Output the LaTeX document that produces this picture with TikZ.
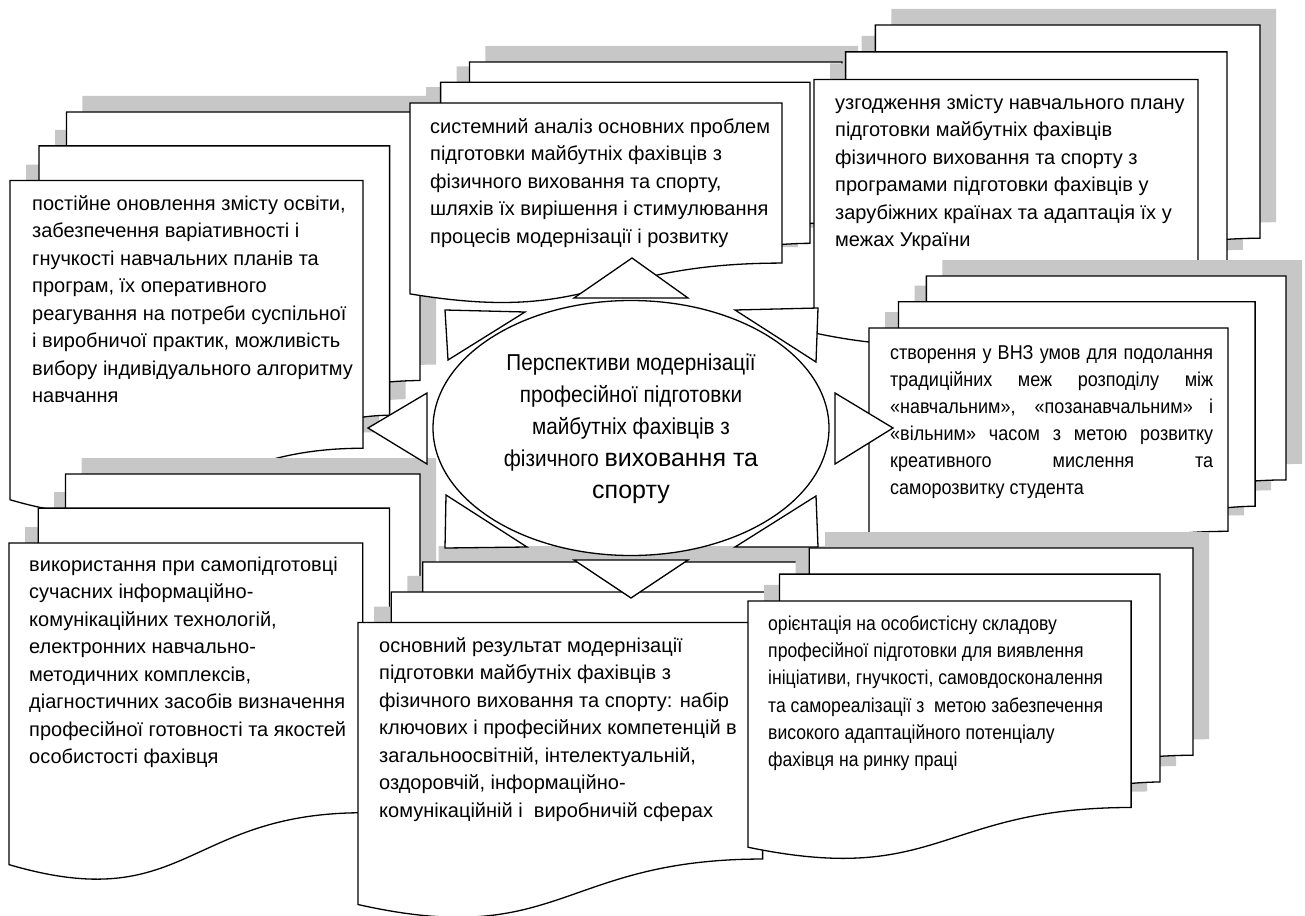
\documentclass[tikz,border=0pt]{standalone}
\usepackage{fontspec}
\setmainfont{Liberation Sans}
\newfontfamily\regfont{Liberation Sans}
\newfontfamily\narrowA[FakeStretch=0.9]{Liberation Sans}
\newfontfamily\narrowB[FakeStretch=0.88]{Liberation Sans}
\usetikzlibrary{shapes.geometric}

\tikzset{
  shadowc/.style={fill=black!22},
  pagefill/.style={fill=white},
  pageline/.style={line width=1.3pt, line join=miter},
  txt/.style={anchor=north west, inner sep=0pt, align=left, font=\fontsize{20}{27.5}\selectfont},
  tri/.style={draw, line width=1.3pt, fill=white, line join=miter},
}

% the three pages of a multidocument shape, in a 100x100 box
\newcommand{\mdocpaths}[1]{%
  \fill[#1] (13.759,8.403) -- (13.759,0) -- (100,0) -- (100,66.63) .. controls (96.296,66.63) and (92.593,66.977) .. (92.593,66.977) -- (92.593,8.403) -- cycle;
  \fill[#1] (7.093,17.014) -- (7.093,8.403) -- (92.593,8.403) -- (92.593,75.241) .. controls (89.343,75.241) and (86.088,75.704) .. (86.088,75.704) -- (86.088,17.014) -- cycle;
  \fill[#1] (0,96.213) .. controls (43.046,108.99) and (43.046,83.435) .. (86.088,83.435) -- (86.088,17.014) -- (0,17.014) -- cycle;
}
\newcommand{\mdoc}[4]{%
  \begin{scope}[shift={(#1+16,#2-16)},xscale=#3/100,yscale=#4/100]
    \mdocpaths{shadowc}
  \end{scope}
  \begin{scope}[shift={(#1,#2)},xscale=#3/100,yscale=#4/100]
    \mdocpaths{pagefill}
    \draw[pageline] (13.759,8.403) -- (13.759,0) -- (100,0) -- (100,66.63) .. controls (96.296,66.63) and (92.593,66.977) .. (92.593,66.977);
    \draw[pageline] (7.093,17.014) -- (7.093,8.403) -- (92.593,8.403) -- (92.593,75.241) .. controls (89.343,75.241) and (86.088,75.704) .. (86.088,75.704);
    \draw[pageline] (0,96.213) .. controls (43.046,108.99) and (43.046,83.435) .. (86.088,83.435) -- (86.088,17.014) -- (0,17.014) -- cycle;
  \end{scope}
}

\begin{document}
\begin{tikzpicture}[x=1pt,y=-1pt]
\useasboundingbox (0,0) rectangle (1305,915);
\fill[white] (0,0) rectangle (1305,915);

% multidocument shapes, back to front
\mdoc{10}{112}{410}{403}   % A top-left
\mdoc{410}{62}{432}{241}   % B top-centre
\mdoc{814}{25}{446}{320}   % C top-right
\mdoc{869}{276}{417}{306}  % D right
\mdoc{9}{474}{411}{406}    % E bottom-left
\mdoc{358}{562}{470}{356}  % F bottom-centre
\mdoc{748}{548}{445}{311}  % G bottom-right

% central ellipse
\node[ellipse, draw, line width=1.3pt, fill=white, minimum width=396pt, minimum height=255pt, inner sep=0pt] (centre) at (631,428) {};

% triangles round the ellipse
\draw[tri] (574,298) -- (632,258) -- (688,298) -- cycle;
\draw[tri] (574,560) -- (688,560) -- (631,598) -- cycle;
\draw[tri] (427,393) -- (368,428) -- (427,464) -- cycle;
\draw[tri] (835,393) -- (893,428) -- (835,464) -- cycle;
\draw[tri] (445,310) -- (525,312) -- (448,360) -- cycle;
\draw[tri] (818,308) -- (735,310) -- (816,362) -- cycle;
\draw[tri] (445,548) -- (446,495) -- (527,547) -- cycle;
\draw[tri] (818,547) -- (816,496) -- (735,547) -- cycle;

% texts
\node[anchor=north, inner sep=0pt, align=center, font=\narrowA\fontsize{23}{32}\selectfont] (ctext) at (631,347.6)
  {\strut Перспективи модернізації\\професійної підготовки\\майбутніх фахівців з\\фізичного {\regfont\fontsize{25}{32}\selectfont виховання та}\\{\regfont\fontsize{25}{32}\selectfont спорту}};

\node[txt] (tA) at (32,190.75) {\strut постійне оновлення змісту освіти,\\забезпечення варіативності і\\гнучкості навчальних планів та\\програм, їх оперативного\\реагування на потреби суспільної\\і виробничої практик, можливість\\вибору індивідуального алгоритму\\навчання};

\node[txt] (tB) at (430,113.75) {\strut системний аналіз основних проблем\\підготовки майбутніх фахівців з\\фізичного виховання та спорту,\\шляхів їх вирішення і стимулювання\\процесів модернізації і розвитку};

\node[txt] (tC) at (835,89.75) {\strut узгодження змісту навчального плану\\підготовки майбутніх фахівців\\фізичного виховання та спорту з\\програмами підготовки фахівців у\\зарубіжних країнах та адаптація їх у\\межах України};

\node[txt, font=\narrowA\fontsize{20}{27.1}\selectfont] (tD) at (890,340) {\strut\makebox[323pt][s]{створення у ВНЗ умов для подолання}\\\makebox[323pt][s]{традиційних меж розподілу між}\\\makebox[323pt][s]{«навчальним», «позанавчальним» і}\\\makebox[323pt][s]{«вільним» часом з метою розвитку}\\\makebox[323pt][s]{креативного мислення та}\\саморозвитку студента};

\node[txt] (tE) at (29,551.75) {\strut використання при самопідготовці\\сучасних інформаційно-\\комунікаційних технологій,\\електронних навчально-\\методичних комплексів,\\діагностичних засобів визначення\\професійної готовності та якостей\\особистості фахівця};

\node[txt] (tF) at (379,632.75) {\strut основний результат модернізації\\підготовки майбутніх фахівців з\\фізичного виховання та спорту: набір\\ключових і професійних компетенцій в\\загальноосвітній, інтелектуальній,\\оздоровчій, інформаційно-\\комунікаційній і~ виробничій сферах};

\node[txt, font=\narrowB\fontsize{20}{27.3}\selectfont] (tG) at (768,610.9) {\strut орієнтація на особистісну складову\\професійної підготовки для виявлення\\ініціативи, гнучкості, самовдосконалення\\та самореалізації з~ метою забезпечення\\високого адаптаційного потенціалу\\фахівця на ринку праці};
\end{tikzpicture}
\end{document}
